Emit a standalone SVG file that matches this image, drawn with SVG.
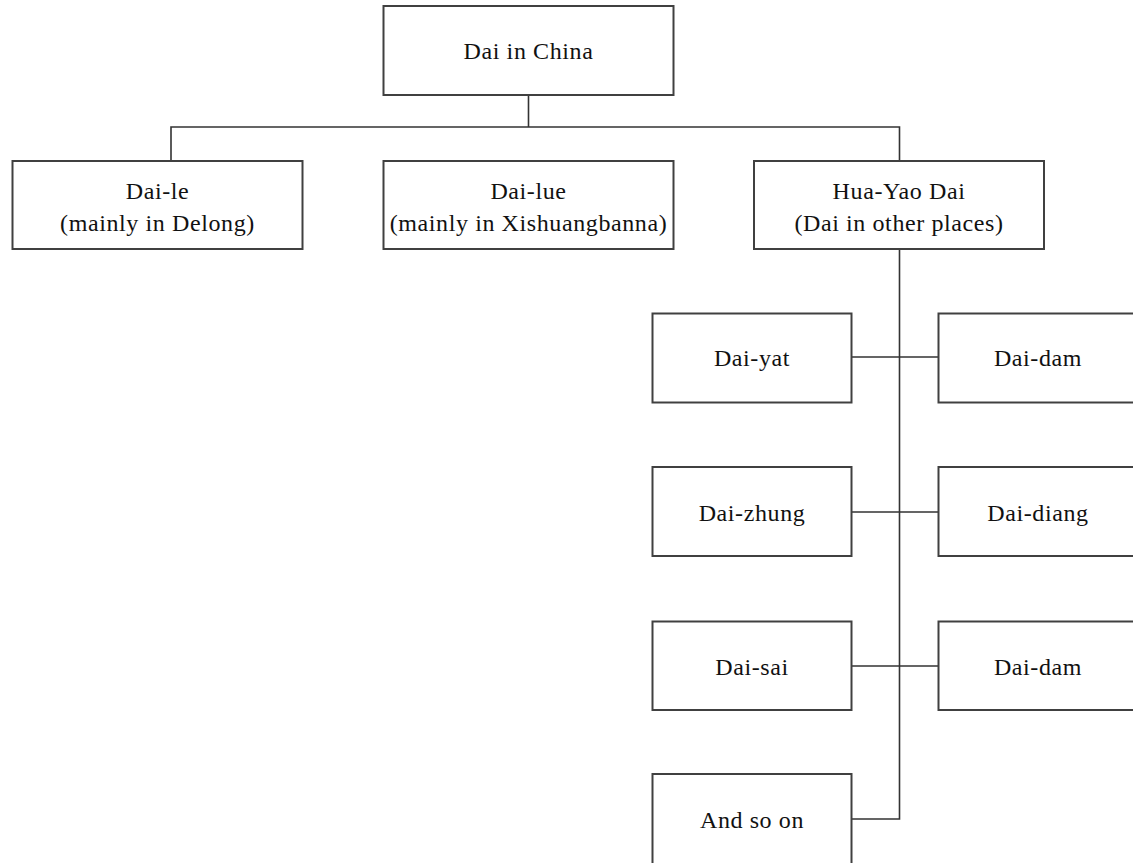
<svg xmlns="http://www.w3.org/2000/svg" width="1133" height="863" viewBox="0 0 1133 863">
<style>
.box{fill:#fff;stroke:#404040;stroke-width:2}
.ln{fill:none;stroke:#333;stroke-width:1.6}
text{font-family:"Liberation Serif","Times New Roman",serif;font-size:24px;fill:#111;text-anchor:middle;letter-spacing:0.6px}
</style>
<rect width="1133" height="863" fill="#fff"/>
<g id="connectors">
<path class="ln" d="M528.5 95V127M171 161V127H899.5V161"/>
<path class="ln" d="M899.5 249V819H852"/>
<path class="ln" d="M852 357H939M852 512H939M852 666H939"/>
</g>
<g id="n-china"><rect class="box" x="383.5" y="6" width="290" height="89"/><text x="528.5" y="59">Dai in China</text></g>
<g id="n-daile"><rect class="box" x="12.5" y="161" width="290" height="88"/><text x="157.5" y="199">Dai-le</text><text x="157.5" y="231">(mainly in Delong)</text></g>
<g id="n-dailue"><rect class="box" x="383.5" y="161" width="290" height="88"/><text x="528.5" y="199">Dai-lue</text><text x="528.5" y="231">(mainly in Xishuangbanna)</text></g>
<g id="n-huayao"><rect class="box" x="754" y="161" width="290" height="88"/><text x="899" y="199">Hua-Yao Dai</text><text x="899" y="231">(Dai in other places)</text></g>
<g id="n-daiyat"><rect class="box" x="652.5" y="313.5" width="199" height="89"/><text x="752" y="366">Dai-yat</text></g>
<g id="n-daidam1"><rect class="box" x="938.5" y="313.5" width="210" height="89"/><text x="1038" y="366">Dai-dam</text></g>
<g id="n-daizhung"><rect class="box" x="652.5" y="467" width="199" height="89"/><text x="752" y="521">Dai-zhung</text></g>
<g id="n-daidiang"><rect class="box" x="938.5" y="467" width="210" height="89"/><text x="1038" y="521">Dai-diang</text></g>
<g id="n-daisai"><rect class="box" x="652.5" y="621.5" width="199" height="88.5"/><text x="752" y="675">Dai-sai</text></g>
<g id="n-daidam2"><rect class="box" x="938.5" y="621.5" width="210" height="88.5"/><text x="1038" y="675">Dai-dam</text></g>
<g id="n-andso"><rect class="box" x="652.5" y="774" width="199" height="100"/><text x="752" y="828">And so on</text></g>
</svg>
